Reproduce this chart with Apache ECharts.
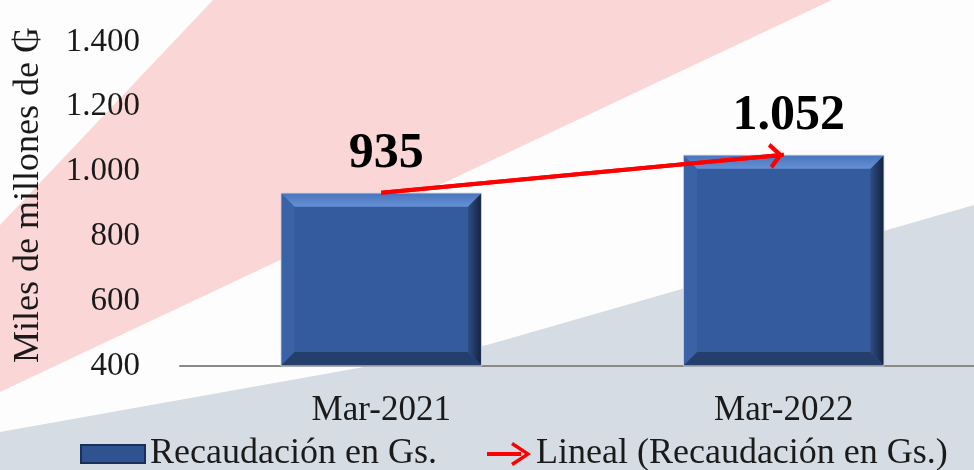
<!DOCTYPE html>
<html>
<head>
<meta charset="utf-8">
<script src="https://cdn.jsdelivr.net/npm/echarts@6/dist/echarts.min.js"></script>
<style>
  html, body { margin: 0; padding: 0; background: #fdfdfd; }
  #main { width: 974px; height: 470px; }
</style>
</head>
<body>
<div id="main"></div>
<script>
var categories = ['Mar-2021', 'Mar-2022'];
var recaudacion = [935, 1052];
var tendencia = [935, 1052];
var yTicks = { min: 400, max: 1400, interval: 200 };

var serif = '"Liberation Serif", "Times New Roman", "DejaVu Serif", serif';
var barColor = '#345b9d';
var arrowPath = 'path://M0,-16 L0,-16 Z M0,0 L12,12 L9,15 L0,6 L-9,15 L-12,12 Z';

function miles(v) {
    return String(v).replace(/\B(?=(\d{3})+(?!\d))/g, '.');
}

// pares [indice, valor] para el bisel de las barras
var biselData = recaudacion.map(function (v, i) { return [i, v]; });

var chart = echarts.init(document.getElementById('main'));

var option = {
    backgroundColor: '#fdfdfd',
    animation: false,
    graphic: [
        { type: 'polygon', z: -10, silent: true,
          shape: { points: [[213, 0], [832, 0], [0, 392], [0, 225]] },
          style: { fill: '#fbd6d6' } },
        { type: 'polygon', z: -10, silent: true,
          shape: { points: [[974, 205], [974, 470], [0, 470], [0, 432], [487, 345]] },
          style: { fill: '#d6dce4' } }
    ],
    grid: { left: 180, right: -11, top: 42, bottom: 104, containLabel: false, outerBoundsMode: 'none' },
    legend: [{
        left: 80, top: 436, padding: 0,
        itemWidth: 64, itemHeight: 18, itemGap: 4,
        textStyle: { fontFamily: serif, fontSize: 36, color: '#1a1a1a' },
        data: [{ name: 'Recaudación en Gs.', icon: 'rect',
                 itemStyle: { color: '#2f5290', borderColor: '#1b3057', borderWidth: 2 } }]
    }, {
        left: 487, top: 436, padding: 0,
        itemWidth: 44, itemHeight: 24, itemGap: 4,
        textStyle: { fontFamily: serif, fontSize: 36, color: '#1a1a1a' },
        data: [{ name: 'Lineal (Recaudación en Gs.)',
                 icon: 'path://M0,10 L34,10 L34,14 L0,14 Z M26,0 L44,12 L26,24 L24,21 L38,12 L24,3 Z',
                 itemStyle: { color: '#ff0000' } }]
    }],
    xAxis: {
        type: 'category',
        data: categories,
        axisLine: { lineStyle: { color: '#8a8a8a', width: 2 } },
        axisTick: { show: false },
        axisLabel: { fontFamily: serif, fontSize: 35, color: '#1a1a1a', margin: 27 }
    },
    yAxis: {
        type: 'value',
        min: yTicks.min, max: yTicks.max, interval: yTicks.interval,
        name: 'Miles de millones de ₲',
        nameLocation: 'middle',
        nameRotate: 90,
        nameGap: 133,
        nameTextStyle: { fontFamily: serif, fontSize: 36, color: '#1a1a1a', padding: [0, 0, 0, 18] },
        axisLine: { show: false },
        axisTick: { show: false },
        splitLine: { show: false },
        axisLabel: { fontFamily: serif, fontSize: 33, color: '#1a1a1a', margin: 40,
                     formatter: miles }
    },
    series: [{
        name: 'Recaudación en Gs.',
        type: 'bar',
        data: recaudacion,
        barWidth: '50%',
        itemStyle: { color: barColor, borderColor: '#c5cdd9', borderWidth: 1 },
        label: {
            show: true, position: 'top', distance: 14, offset: [5, 0],
            fontFamily: serif, fontSize: 50, fontWeight: 'bold', color: '#000',
            formatter: function (p) { return miles(p.value); }
        }
    }, {
        name: 'bisel',
        type: 'custom',
        silent: true,
        z: 3,
        data: biselData,
        encode: { x: 0, y: 1 },
        renderItem: function (params, api) {
            var top = api.coord([api.value(0), api.value(1)]);
            var base = api.coord([api.value(0), yTicks.min]);
            var w = api.size([1, 0])[0] * 0.5;
            var x0 = top[0] - w / 2 + 1, x1 = top[0] + w / 2 - 1;
            var y0 = top[1] + 1, y1 = base[1] - 1;
            var b = 13;
            function poly(pts, fill) {
                return { type: 'polygon', shape: { points: pts }, style: { fill: fill } };
            }
            return {
                type: 'group',
                children: [
                    poly([[x0, y0], [x0 + b, y0 + b], [x0 + b, y1 - b], [x0, y1]], '#3a63a7'),
                    poly([[x1, y0], [x1 - b, y0 + b], [x1 - b, y1 - b], [x1, y1]],
                        new echarts.graphic.LinearGradient(0, 0, 1, 0, [
                            { offset: 0, color: '#2c4d86' }, { offset: 1, color: '#16253f' }])),
                    poly([[x0, y0], [x1, y0], [x1 - b, y0 + b], [x0 + b, y0 + b]],
                        new echarts.graphic.LinearGradient(0, 0, 0, 1, [
                            { offset: 0, color: '#4a76bd' }, { offset: 1, color: '#6590d4' }])),
                    poly([[x0, y1], [x1, y1], [x1 - b, y1 - b], [x0 + b, y1 - b]], '#243f6c')
                ]
            };
        }
    }, {
        name: 'Lineal (Recaudación en Gs.)',
        type: 'line',
        z: 6,
        data: tendencia,
        symbol: 'none',
        lineStyle: { color: '#ff0000', width: 4 },
        itemStyle: { color: '#ff0000' },
        markLine: {
            silent: true,
            symbol: ['none', arrowPath],
            symbolSize: [26, 30],
            label: { show: false },
            lineStyle: { color: '#ff0000', width: 4, type: 'solid' },
            data: [[{ coord: [0, tendencia[0]] }, { coord: [1, tendencia[1]] }]]
        }
    }]
};

chart.setOption(option);
</script>
</body>
</html>
